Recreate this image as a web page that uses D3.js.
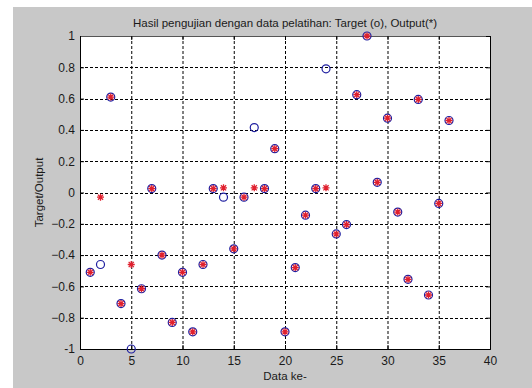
<!DOCTYPE html>
<html><head><meta charset="utf-8">
<script src="https://cdn.jsdelivr.net/npm/d3@7"></script>
<style>
body{margin:0;background:#fff;}
svg{display:block;}
text{font-family:"Liberation Sans",Arial,sans-serif;fill:#1a1a1a;}
</style></head>
<body><svg id="c" width="532" height="388"></svg>
<script>
const dataIndex = d3.range(1, 37);
const target = [-0.51,-0.46,0.61,-0.71,-1.0,-0.615,0.025,-0.40,-0.83,-0.51,-0.89,-0.46,0.025,-0.03,-0.36,-0.03,0.415,0.025,0.28,-0.89,-0.48,-0.145,0.025,0.79,-0.265,-0.205,0.625,1.0,0.065,0.475,-0.125,-0.555,0.595,-0.655,-0.07,0.46];
const output = [-0.51,-0.03,0.61,-0.71,-0.46,-0.615,0.025,-0.40,-0.83,-0.51,-0.89,-0.46,0.025,0.03,-0.36,-0.03,0.03,0.025,0.28,-0.89,-0.48,-0.145,0.025,0.03,-0.265,-0.205,0.625,1.0,0.065,0.475,-0.125,-0.555,0.595,-0.655,-0.07,0.46];
const xTicks = [0,5,10,15,20,25,30,35,40];
const yTicks = [-1,-0.8,-0.6,-0.4,-0.2,0,0.2,0.4,0.6,0.8,1];
const titleText = "Hasil pengujian dengan data pelatihan: Target (o), Output(*)";
const xLabel = "Data ke-";
const yLabel = "Target/Output";

const svg = d3.select("#c");
svg.append("rect").attr("x",13).attr("y",7).attr("width",519).attr("height",381).attr("fill","#c8c8c8");
const L=80, T=36, R=490, B=349;
const x = d3.scaleLinear().domain([0,40]).range([L,R]);
const y = d3.scaleLinear().domain([-1,1]).range([B,T]);
svg.append("rect").attr("x",L).attr("y",T).attr("width",R-L).attr("height",B-T).attr("fill","#fff");

// grid
const g = svg.append("g");
g.selectAll(".gx").data(xTicks.slice(1,-1)).join("line")
 .attr("x1",d=>x(d)+0.5).attr("x2",d=>x(d)+0.5).attr("y1",T).attr("y2",B)
 .attr("stroke","#000").attr("stroke-dasharray","3,2").attr("stroke-width",1);
g.selectAll(".gy").data(yTicks.slice(1,-1)).join("line")
 .attr("y1",d=>Math.round(y(d))+0.5).attr("y2",d=>Math.round(y(d))+0.5).attr("x1",L).attr("x2",R)
 .attr("stroke","#000").attr("stroke-dasharray","3,2").attr("stroke-width",1);

// axes
const fmt = d=> d===0?"0":(Number.isInteger(d)?String(d):String(d).replace("0.","0.").replace("-0.","-0."));
const xa = svg.append("g").attr("transform",`translate(0,${B})`)
 .call(d3.axisBottom(x).tickValues(xTicks).tickSize(-4).tickPadding(7).tickFormat(d3.format("d")));
const ya = svg.append("g").attr("transform",`translate(${L},0)`)
 .call(d3.axisLeft(y).tickValues(yTicks).tickSize(-4).tickPadding(5).tickFormat(d=>d===0?"0":(Number.isInteger(d)?d:d3.format(".1f")(d))));
const xt = svg.append("g").attr("transform",`translate(0,${T})`)
 .call(d3.axisTop(x).tickValues(xTicks).tickSize(-4).tickFormat(""));
const yr = svg.append("g").attr("transform",`translate(${R},0)`)
 .call(d3.axisRight(y).tickValues(yTicks).tickSize(-4).tickFormat(""));
[xa,ya,xt,yr].forEach(a=>{a.select(".domain").attr("stroke","#000");a.selectAll(".tick line").attr("stroke","#000");});
xt.select(".domain").attr("stroke","#555");
svg.selectAll(".tick text").style("font-size","12px").style("font-family","'Liberation Sans',Arial,sans-serif").attr("fill","#1a1a1a");

// markers: targets (blue circles)
svg.append("g").selectAll("circle").data(dataIndex).join("circle")
 .attr("cx",(d,i)=>x(dataIndex[i])).attr("cy",(d,i)=>y(target[i])).attr("r",4)
 .attr("fill","none").attr("stroke","#1e1ea0").attr("stroke-width",1.2);
// outputs (red asterisks)
const s=3.5, sd=2.6;
const star = svg.append("g").attr("stroke","#e0202e").attr("stroke-width",1.3);
dataIndex.forEach((d,i)=>{
  const cx=x(d), cy=y(output[i]);
  star.append("path").attr("d",`M${cx-s},${cy}H${cx+s}M${cx},${cy-s}V${cy+s}M${cx-sd},${cy-sd}L${cx+sd},${cy+sd}M${cx-sd},${cy+sd}L${cx+sd},${cy-sd}`);
});

svg.append("text").attr("x",(L+R)/2).attr("y",27).attr("text-anchor","middle").style("font-size","11.5px").text(titleText);
svg.append("text").attr("x",(L+R)/2).attr("y",380).attr("text-anchor","middle").style("font-size","11.5px").text(xLabel);
svg.append("text").attr("transform",`translate(43,${(T+B)/2}) rotate(-90)`).attr("text-anchor","middle").style("font-size","11.5px").text(yLabel);
</script></body></html>
